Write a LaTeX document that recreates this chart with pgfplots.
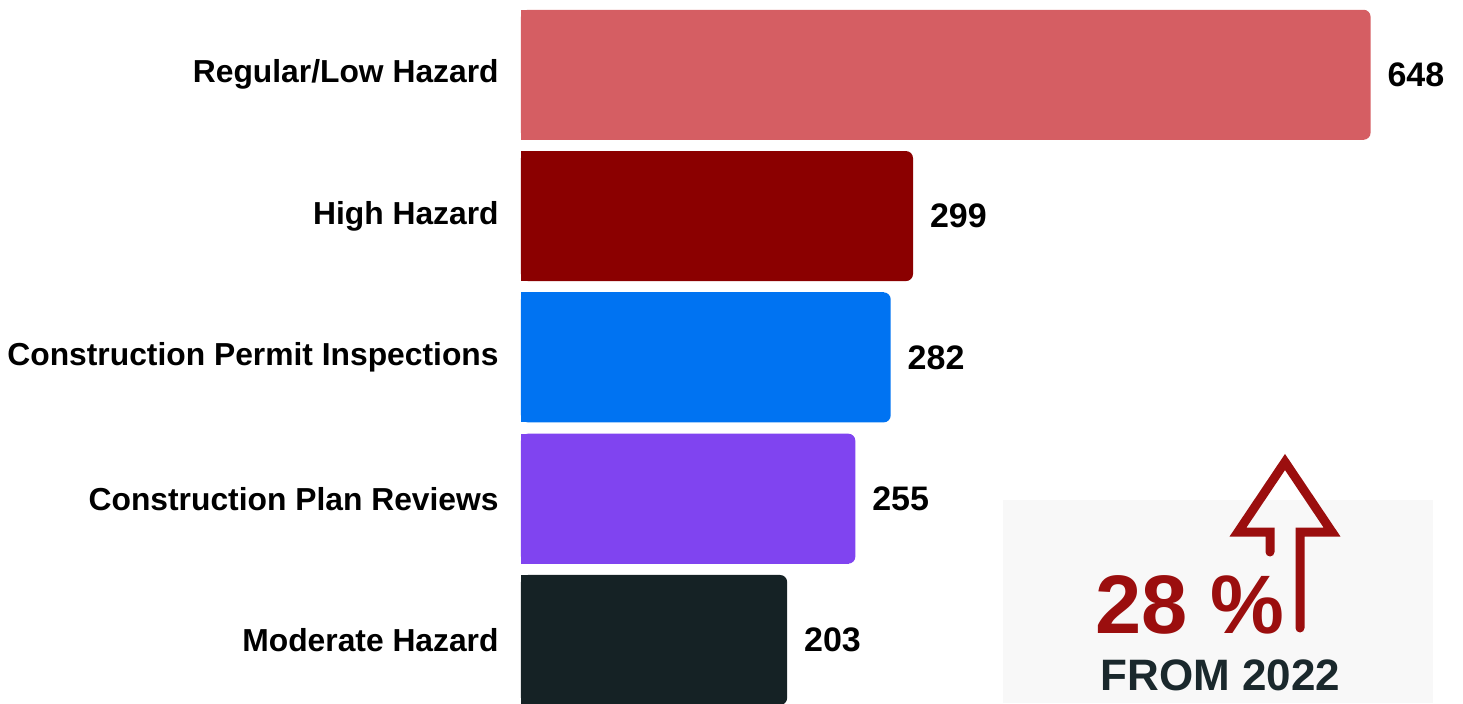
\documentclass[border=0pt]{standalone}
\usepackage{pgfplots}
\usepackage{pgfplotstable}
\pgfplotsset{compat=1.18}
\usepackage{fontspec}
\setmainfont{Liberation Sans}

\definecolor{bar4}{RGB}{213,94,99}
\definecolor{bar3}{RGB}{139,0,0}
\definecolor{bar2}{RGB}{0,115,242}
\definecolor{bar1}{RGB}{128,68,240}
\definecolor{bar0}{RGB}{21,34,37}
\definecolor{arrowred}{RGB}{155,14,14}
\definecolor{insetbg}{RGB}{248,248,248}
\definecolor{darktext}{RGB}{26,40,44}

% y = row position (top = 4), v = count
\pgfplotstableread{
y v
4 648
3 299
2 282
1 255
0 203
}\hazards

\begin{document}
\begin{tikzpicture}
% picture is 1463 x 703 px, 1 px = 0.5pt
\path[use as bounding box] (0,0) rectangle (731.5pt,351.5pt);

\begin{axis}[
    at={(260.5pt,0pt)}, anchor=south west,
    scale only axis,
    width=471pt, height=351.5pt,
    xmin=0, xmax=718.5,
    ymin=-0.446, ymax=4.529,
    axis line style={draw=none},
    major tick length=0pt,
    xtick=\empty,
    ytick={0,1,2,3,4},
    yticklabels={Moderate Hazard, Construction Plan Reviews,
        Construction Permit Inspections, High Hazard, Regular/Low Hazard},
    yticklabel style={font=\bfseries\fontsize{15.9}{17}\selectfont,
        text=black, inner sep=0pt},
    yticklabel shift=11pt,
    /pgf/number format/assume math mode=true,
    clip=true,
]
\pgfplotsinvokeforeach{0,...,4}{
    \addplot[xbar, bar width=0.92, bar shift=0pt, fill=bar#1, draw=none,
        rounded corners=3.5pt,
        nodes near coords, point meta=x,
        every node near coord/.style={anchor=west, inner sep=0pt,
            xshift=8.3pt, text=black,
            font=\bfseries\fontsize{17}{19}\selectfont}]
        table[x=v, y=y, restrict y to domain=#1:#1] {\hazards};
    % square off the left corners (seam hidden where the right corner begins)
    \addplot[xbar, bar width=0.92, bar shift=0pt, fill=bar#1, draw=none]
        table[x expr=\thisrow{v}-5, y=y, restrict y to domain=#1:#1] {\hazards};
}
\end{axis}

% inset, in pixel coordinates of the reference
\begin{scope}[x=0.5pt, y=-0.5pt, yshift=351.5pt]
    \fill[insetbg] (1003,500) rectangle (1433,703);
    \draw[arrowred, line width=4.5pt, line cap=round, line join=miter]
        (1270,552) -- (1270,532) -- (1238,532) -- (1285,462)
        -- (1332,532) -- (1300,532) -- (1300,628);
    \node[anchor=base west, inner sep=0pt, text=arrowred,
        font=\bfseries\fontsize{41.5}{44}\selectfont] at (1095,633) {28 \%};
    \node[anchor=base west, inner sep=0pt, text=darktext,
        font=\bfseries\fontsize{22}{24}\selectfont] at (1100,690) {FROM 2022};
\end{scope}
\end{tikzpicture}
\end{document}
